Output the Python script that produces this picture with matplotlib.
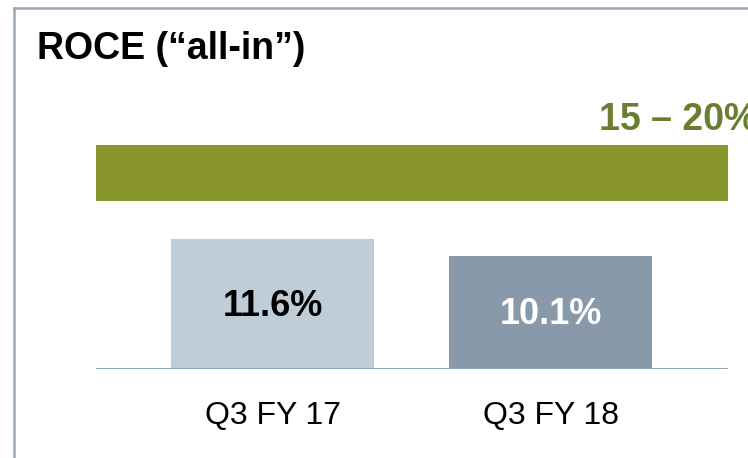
import numpy as np
import matplotlib.pyplot as plt
from matplotlib.lines import Line2D

plt.rcParams['font.family'] = ['Liberation Sans', 'DejaVu Sans']

# data
categories = ['Q3 FY 17', 'Q3 FY 18']
roce = [11.6, 10.1]
value_labels = ['11.6%', '10.1%']
target_low = 15
target_high = 20
target_label = '15 – 20%'

bar_colors = ['#bfcdd9', '#889aaa']
label_colors = ['black', 'white']
band_color = '#87952a'
text_green = '#6b7d30'
line_color = '#8fa3b8'

fig = plt.figure(figsize=(7.48, 4.58), dpi=100)
ax = fig.add_axes([96 / 748, 89 / 458, 632 / 748, 269 / 458])

x = np.arange(len(categories))
ax.bar(x, roce, width=0.729, color=bar_colors, zorder=2)
ax.axhspan(target_low, target_high, color=band_color, lw=0, zorder=1)
ax.axhline(0, color=line_color, lw=1.5, zorder=3)

# value labels inside the bars
for xi, v, lab, c in zip(x, roce, value_labels, label_colors):
    ax.text(xi, v * 0.5 - 0.2, lab, ha='center', va='center',
            fontsize=26, fontweight='bold', color=c)

# target range label, runs off the right edge as on the slide
ax.text(1.173, target_high + 0.6, target_label, ha='left', va='bottom',
        fontsize=27, fontweight='bold', color=text_green, clip_on=False)

ax.set_xlim(-0.634, 1.636)
ax.set_ylim(0, 24.0)
ax.set_xticks(x)
ax.set_xticklabels(categories, fontsize=23)
ax.tick_params(axis='x', length=0, pad=23)
ax.set_yticks([])
for s in ax.spines.values():
    s.set_visible(False)

fig.text(37 / 748, 1 - 49 / 458, 'ROCE (“all-in”)', fontsize=27,
         fontweight='bold', color='black', va='center', ha='left')

# slide frame lines
fig.add_artist(Line2D([14 / 748, 14 / 748], [0, 1 - 8 / 458],
                      transform=fig.transFigure, color='#98a9ba', lw=1.8))
fig.add_artist(Line2D([14 / 748, 1], [1 - 8 / 458, 1 - 8 / 458],
                      transform=fig.transFigure, color='#98a9ba', lw=1.8))

fig.savefig('out.png', dpi=100)
